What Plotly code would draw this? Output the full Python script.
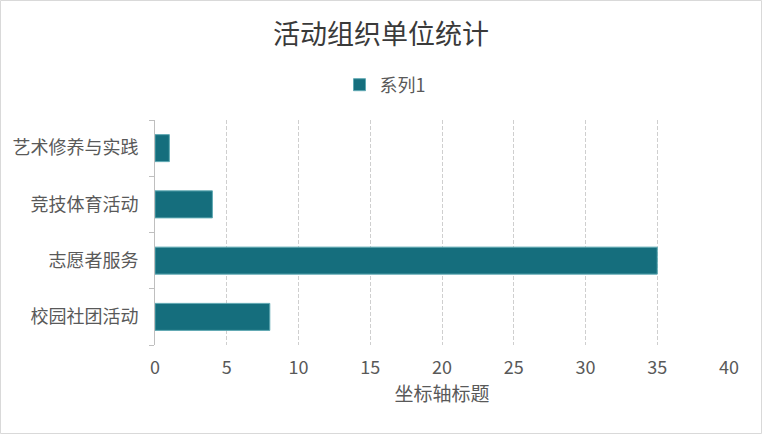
import plotly.graph_objects as go

categories = ["校园社团活动", "志愿者服务", "竞技体育活动", "艺术修养与实践"]
values = [8, 35, 4, 1]
x_ticks = [0, 5, 10, 15, 20, 25, 30, 35, 40]

font_cjk = "Noto Sans CJK SC"
teal = "#156e7d"

W, H = 762, 434
L, R, T, B = 155, 33, 120, 89
pw, ph = W - L - R, H - T - B

fig = go.Figure()
fig.add_trace(go.Bar(
    y=categories, x=values, orientation="h", name="系列1",
    marker=dict(color=teal, line=dict(color="#5fa9b3", width=1)),
))

fig.update_layout(
    width=W, height=H,
    margin=dict(l=L, r=R, t=T, b=B, autoexpand=False),
    paper_bgcolor="white", plot_bgcolor="white",
    font=dict(family=font_cjk, color="#595959", size=18),
    title=dict(text="活动组织单位统计", x=0.5, xanchor="center", y=1 - 35 / H, yanchor="middle",
               font=dict(size=27, color="#3a3a3a", family=font_cjk)),
    showlegend=True,
    legend=dict(orientation="h", x=0.5 - 57 / pw, xanchor="center", y=1 + 35 / ph, yanchor="middle",
                font=dict(size=18, color="#595959")),
    bargap=0.52,
)
fig.update_xaxes(
    range=[0, 40], tickvals=x_ticks, showgrid=True, gridcolor="#cfcfcf", griddash="4px,2px",
    zeroline=False, showline=False, ticks="", automargin=False, ticklabelstandoff=10,
    tickfont=dict(size=18, color="#595959"),
    title=dict(text="坐标轴标题", font=dict(size=19, color="#595959"), standoff=8),
)
fig.update_yaxes(
    showline=True, linecolor="#bfbfbf", linewidth=1, ticks="outside", tickson="boundaries",
    ticklen=5, tickcolor="#bfbfbf", showgrid=False, automargin=False, ticklabelstandoff=12,
    tickfont=dict(size=18, color="#595959"),
)
fig.add_shape(type="rect", xref="paper", yref="paper",
              x0=-(L - 0.5) / pw, x1=(W - L - 0.5) / pw,
              y0=-(B - 0.5) / ph, y1=(H - B - 0.5) / ph,
              line=dict(color="#d9d9d9", width=1))

# page body has a default margin; drop it so the chart sits at the window origin
fig.write_html("out.html", config={"displayModeBar": False},
               post_script="document.body.style.margin='0';")
